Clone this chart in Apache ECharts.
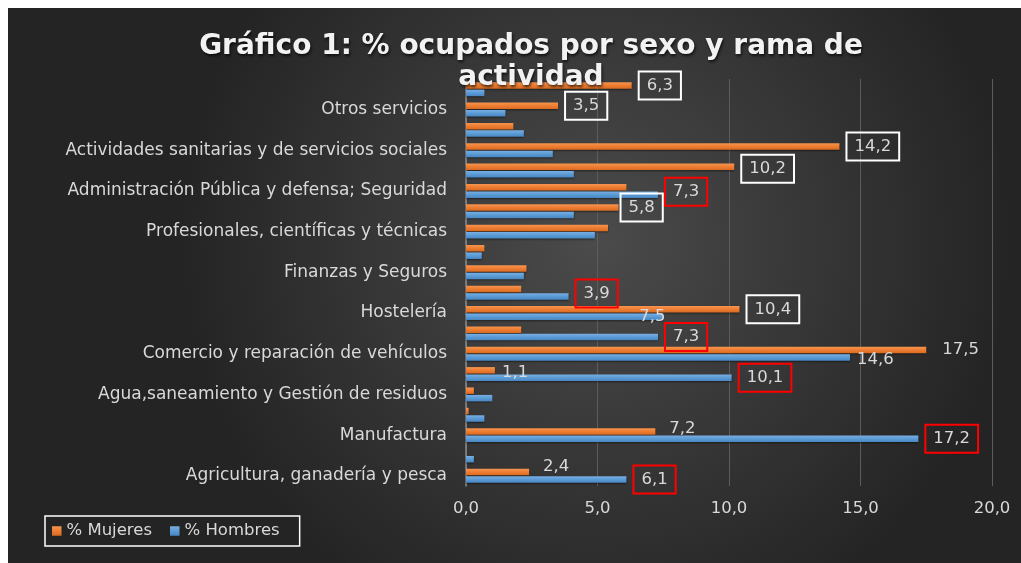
<!DOCTYPE html>
<html>
<head>
<meta charset="utf-8">
<script src="https://cdn.jsdelivr.net/npm/echarts@6/dist/echarts.min.js"></script>
<style>
  body { margin: 0; background: #fff; }
  #chart { position: absolute; left: 8px; top: 8px; width: 1013px; height: 555px; }
</style>
</head>
<body>
<div id="chart"></div>
<script>
// ramas de actividad (de abajo a arriba); solo se rotula una de cada dos
var ramas = [
  'Agricultura, ganadería y pesca',
  'Industrias extractivas',
  'Manufactura',
  'Suministro de energía',
  'Agua,saneamiento y Gestión de residuos',
  'Construcción',
  'Comercio y reparación de vehículos',
  'Transporte y almacenamiento',
  'Hostelería',
  'Información y comunicaciones',
  'Finanzas y Seguros',
  'Actividades inmobiliarias',
  'Profesionales, científicas y técnicas',
  'Actividades administrativas',
  'Administración Pública y defensa; Seguridad',
  'Educación',
  'Actividades sanitarias y de servicios sociales',
  'Actividades artísticas',
  'Otros servicios',
  'Hogares'
];
var mujeres = [2.4, 0, 7.2, 0.1, 0.3, 1.1, 17.5, 2.1, 10.4, 2.1, 2.3, 0.7, 5.4, 5.8, 6.1, 10.2, 14.2, 1.8, 3.5, 6.3];
var hombres = [6.1, 0.3, 17.2, 0.7, 1.0, 10.1, 14.6, 7.3, 7.5, 3.9, 2.2, 0.6, 4.9, 4.1, 7.3, 4.1, 3.3, 2.2, 1.5, 0.7];
var ticksX = [0, 5, 10, 15, 20];

// etiquetas visibles: recuadro y desplazamiento
var etiqMujeres = {
  19: {box: '#ffffff'}, 18: {box: '#ffffff'}, 16: {box: '#ffffff'},
  15: {box: '#ffffff', dy: 2}, 13: {box: '#ffffff', dx: -5}, 8: {box: '#ffffff'},
  6: {dx: 1}, 5: {dx: -8, dy: 2}, 2: {dx: -1, dy: -3}, 0: {dx: -1, dy: -5}
};
var etiqHombres = {
  14: {box: '#ff0000', dy: -3}, 9: {box: '#ff0000', dy: -3}, 8: {dx: -39},
  7: {box: '#ff0000'}, 6: {dx: -8, dy: 2}, 5: {box: '#ff0000'},
  2: {box: '#ff0000'}, 0: {box: '#ff0000'}
};

function coma(v) { return v.toFixed(1).replace('.', ','); }

function datos(valores, etiq) {
  return valores.map(function (v, i) {
    var e = etiq[i];
    if (!e) return {value: v, label: {show: false}};
    return {
      value: v,
      label: {
        show: true,
        borderColor: e.box || 'transparent',
        borderWidth: e.box ? 2 : 0,
        offset: [e.dx || 0, e.dy || 0]
      }
    };
  });
}

var fuente = 'DejaVu Sans';
var gris = '#d9d9d9';

var etiquetaBase = {
  position: 'right',
  distance: 7,
  padding: [5, 8],
  color: gris,
  fontFamily: fuente,
  fontSize: 16.5,
  lineHeight: 18,
  formatter: function (p) { return coma(p.value); }
};

var chart = echarts.init(document.getElementById('chart'));
chart.setOption({
  backgroundColor: new echarts.graphic.RadialGradient(0.58, 0.42, 0.75, [
    {offset: 0, color: '#4b4b4b'},
    {offset: 1, color: '#242424'}
  ]),
  animation: false,
  graphic: [{
    type: 'text',
    z: 100,
    x: 523,
    y: 23,
    style: {
      text: 'Gráfico 1: % ocupados por sexo y rama de\nactividad',
      font: 'bold 28px "DejaVu Sans"',
      fill: '#f2f2f2',
      align: 'center',
      verticalAlign: 'top',
      lineHeight: 31,
      textShadowColor: 'rgba(0,0,0,0.7)',
      textShadowBlur: 3,
      textShadowOffsetX: 1,
      textShadowOffsetY: 2
    }
  }],
  legend: {
    data: ['% Mujeres', '% Hombres'],
    left: 37,
    top: 508,
    icon: 'rect',
    itemWidth: 9.5,
    itemHeight: 9.5,
    itemGap: 18,
    padding: [5, 20, 5, 7],
    borderColor: '#ffffff',
    borderWidth: 1.5,
    textStyle: {color: gris, fontFamily: fuente, fontSize: 16.5, lineHeight: 20}
  },
  grid: {left: 458, right: 29, top: 71, bottom: 77},
  xAxis: {
    type: 'value',
    min: ticksX[0],
    max: ticksX[ticksX.length - 1],
    interval: 5,
    axisLine: {show: false},
    axisTick: {show: false},
    splitLine: {lineStyle: {color: '#5c5c5c', width: 1}},
    axisLabel: {
      color: gris, fontFamily: fuente, fontSize: 16.5, margin: 14,
      formatter: function (v) { return coma(v); }
    }
  },
  yAxis: {
    type: 'category',
    data: ramas,
    axisLine: {lineStyle: {color: '#8a8a8a', width: 1.5}},
    axisTick: {show: false},
    axisLabel: {
      color: gris, fontFamily: fuente, fontSize: 17, interval: 1, margin: 19,
      padding: [5, 0, 0, 0]
    }
  },
  series: [
    {
      name: '% Mujeres',
      type: 'bar',
      barWidth: 6.5,
      barGap: '15%',
      data: datos(mujeres, etiqMujeres),
      itemStyle: {
        color: new echarts.graphic.LinearGradient(0, 0, 0, 1, [
          {offset: 0, color: '#f79550'},
          {offset: 0.5, color: '#ed7d31'},
          {offset: 1, color: '#d96b22'}
        ]),
        shadowColor: 'rgba(0,0,0,0.5)', shadowBlur: 2, shadowOffsetY: 1
      },
      label: etiquetaBase
    },
    {
      name: '% Hombres',
      type: 'bar',
      barWidth: 6.5,
      data: datos(hombres, etiqHombres),
      itemStyle: {
        color: new echarts.graphic.LinearGradient(0, 0, 0, 1, [
          {offset: 0, color: '#78aee2'},
          {offset: 0.5, color: '#5b9bd5'},
          {offset: 1, color: '#4886c2'}
        ]),
        shadowColor: 'rgba(0,0,0,0.5)', shadowBlur: 2, shadowOffsetY: 1
      },
      label: etiquetaBase
    }
  ]
});
</script>
</body>
</html>
